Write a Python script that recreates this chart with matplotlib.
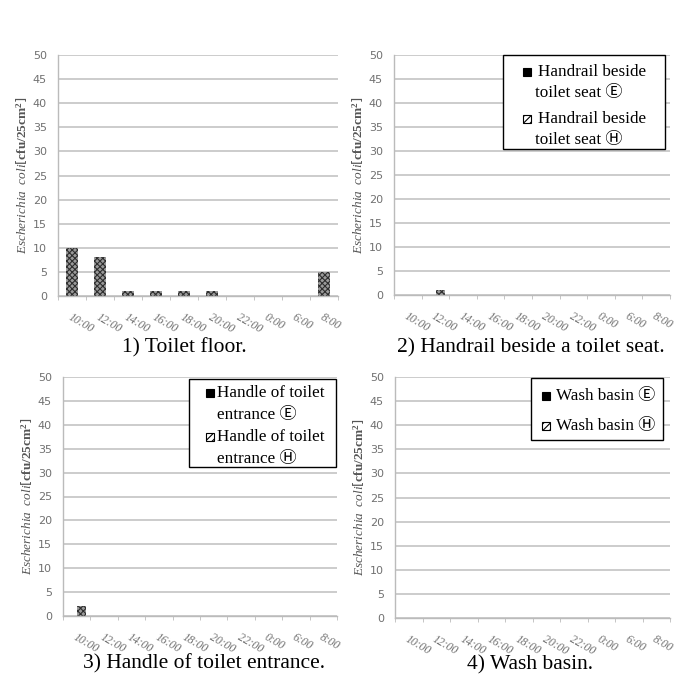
import numpy as np
import matplotlib
matplotlib.use("Agg")
import matplotlib.pyplot as plt
from matplotlib.patches import Rectangle

plt.rcParams['mathtext.fontset'] = 'custom'
plt.rcParams['mathtext.rm'] = 'Liberation Serif'
plt.rcParams['mathtext.it'] = 'Liberation Serif:italic'
plt.rcParams['mathtext.bf'] = 'Liberation Serif:bold'
plt.rcParams['hatch.linewidth'] = 0.8

categories = ['10:00', '12:00', '14:00', '16:00', '18:00', '20:00', '22:00', '0:00', '6:00', '8:00']
floor_vals = [10, 8, 1, 1, 1, 1, 0, 0, 0, 5]
handrail_E = [0, 0, 0, 0, 0, 0, 0, 0, 0, 0]
handrail_H = [0, 1, 0, 0, 0, 0, 0, 0, 0, 0]
handle_E = [0, 0, 0, 0, 0, 0, 0, 0, 0, 0]
handle_H = [2, 0, 0, 0, 0, 0, 0, 0, 0, 0]
basin_E = [0, 0, 0, 0, 0, 0, 0, 0, 0, 0]
basin_H = [0, 0, 0, 0, 0, 0, 0, 0, 0, 0]
yticks = [0, 5, 10, 15, 20, 25, 30, 35, 40, 45, 50]

titles = ['1) Toilet floor.', '2) Handrail beside a toilet seat.',
          '3) Handle of toilet entrance.', '4) Wash basin.']

W, H = 693, 689
fig = plt.figure(figsize=(W / 100, H / 100), dpi=100)


def px_rect(x0, y0, x1, y1):
    return [x0 / W, 1 - y1 / H, (x1 - x0) / W, (y1 - y0) / H]


def fx(x):
    return x / W


def fy(y):
    return 1 - y / H


axes_px = [(58, 55, 338, 296), (394, 55, 670, 295), (63, 377, 337, 616), (395, 377, 670, 618)]
x = np.arange(len(categories))
serif = ['Liberation Serif', 'Noto Sans CJK JP', 'DejaVu Sans']
gray_txt = '#707070'


def style_axes(ax):
    ax.set_xlim(-0.5, len(categories) - 0.5)
    ax.set_ylim(0, 50)
    ax.set_yticks(yticks)
    ax.set_yticklabels([str(v) for v in yticks], color=gray_txt, fontsize=8)
    ax.tick_params(axis='y', length=0, pad=8)
    ax.set_xticks(x)
    ax.set_xticklabels(categories, rotation=-30, ha='left', va='top',
                       rotation_mode='anchor', color=gray_txt, fontsize=8.5,
                       style='italic', family='Liberation Serif')
    ax.tick_params(axis='x', length=0, pad=11)
    ax.set_xticks(np.arange(-0.5, len(categories)), minor=True)
    ax.tick_params(axis='x', which='minor', length=3, color='#bbbbbb')
    ax.grid(axis='y', color='#c8c8c8', linewidth=1.3)
    ax.set_axisbelow(True)
    for s in ['top', 'right']:
        ax.spines[s].set_visible(False)
    for s in ['left', 'bottom']:
        ax.spines[s].set_color('#bbbbbb')
        ax.spines[s].set_linewidth(1.0)
    ax.set_ylabel(r'$\it{Escherichia\ \ coli}$[$\bf{cfu/25cm^2}$]', fontsize=9.5,
                  color='#555555', labelpad=2)


bar_kw = dict(facecolor='#9a9a9a', edgecolor='#2e2e2e', hatch='xxxxxx', linewidth=0)

series = [(floor_vals, None), (handrail_E, handrail_H), (handle_E, handle_H), (basin_E, basin_H)]
for i, (rect, (s1, s2)) in enumerate(zip(axes_px, series)):
    ax = fig.add_axes(px_rect(*rect))
    style_axes(ax)
    if s2 is None:
        ax.bar(x, s1, width=0.43, **bar_kw)
    else:
        ax.bar(x - 0.17, s1, width=0.32, facecolor='black', edgecolor='black', linewidth=0)
        ax.bar(x + 0.17, s2, width=0.32, **bar_kw)

# titles
title_pos = [(184, 348), (531, 348), (204, 664), (530, 665)]
for t, (tx, ty) in zip(titles, title_pos):
    fig.text(fx(tx), fy(ty), t, ha='center', va='center', fontsize=15.5, family=serif)


def legend_box(box, entries):
    x0, y0, x1, y1 = box
    fig.patches.append(Rectangle((fx(x0), fy(y1)), fx(x1 - x0), (y1 - y0) / H,
                                 transform=fig.transFigure, facecolor='white',
                                 edgecolor='black', linewidth=1.0, zorder=5))
    for (mx, my, lines, hatch) in entries:
        s = 8
        if hatch:
            fig.patches.append(Rectangle((fx(mx - s / 2), fy(my + s / 2)), s / W, s / H,
                                         transform=fig.transFigure, facecolor='white',
                                         edgecolor='black', hatch='/////', linewidth=0.8, zorder=6))
        else:
            fig.patches.append(Rectangle((fx(mx - s / 2), fy(my + s / 2)), s / W, s / H,
                                         transform=fig.transFigure, facecolor='black',
                                         edgecolor='black', linewidth=0.8, zorder=6))
        for (lx, ly, txt) in lines:
            fig.text(fx(lx), fy(ly), txt, ha='left', va='center', fontsize=12.3,
                     family=serif, zorder=7)


legend_box((503, 55, 665, 149), [
    (527, 72, [(538, 72, 'Handrail beside'), (535, 93, 'toilet seat \u24ba')], False),
    (527, 119, [(538, 119, 'Handrail beside'), (535, 140, 'toilet seat \u24bd')], True),
])
legend_box((189, 379, 336, 467), [
    (210, 393, [(217, 393, 'Handle of toilet'), (217, 415, 'entrance \u24ba')], False),
    (210, 437, [(217, 437, 'Handle of toilet'), (217, 459, 'entrance \u24bd')], True),
])
legend_box((531, 378, 663, 440), [
    (546, 396, [(556, 396, 'Wash basin \u24ba')], False),
    (546, 426, [(556, 426, 'Wash basin \u24bd')], True),
])

fig.savefig('out.png', dpi=100)
